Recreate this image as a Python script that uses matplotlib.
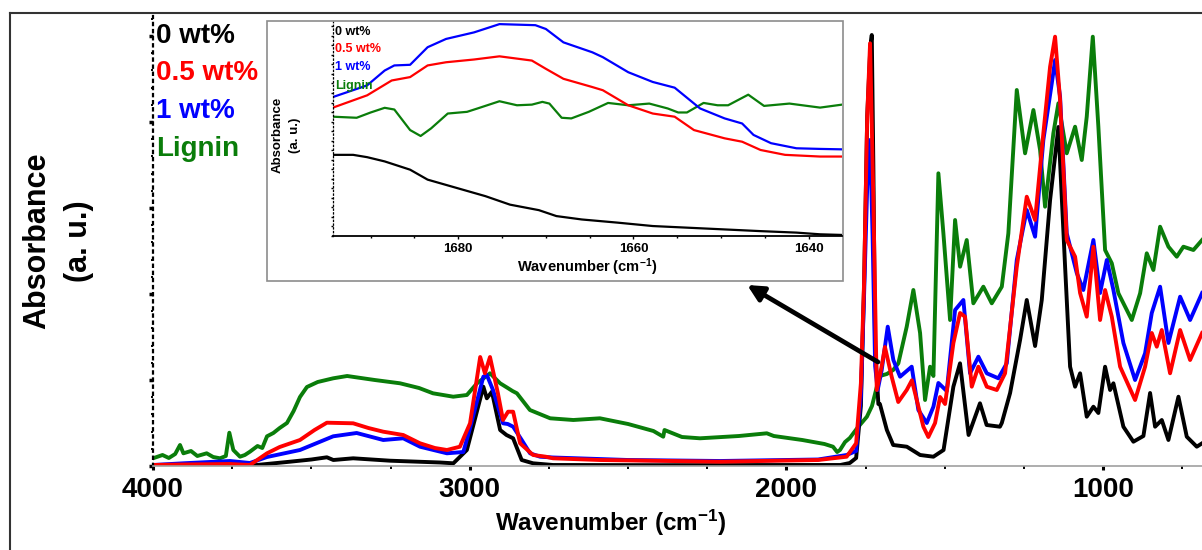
import matplotlib
matplotlib.use("Agg")
import matplotlib.pyplot as plt
from matplotlib.ticker import MultipleLocator, FixedLocator, NullFormatter
from matplotlib.patches import Rectangle
from matplotlib.lines import Line2D

plt.rcParams["font.family"] = ["Liberation Sans", "DejaVu Sans"]
plt.rcParams["mathtext.fontset"] = "custom"
plt.rcParams["mathtext.rm"] = "Liberation Sans"
plt.rcParams["mathtext.bf"] = "Liberation Sans:bold"
plt.rcParams["mathtext.default"] = "bf"

# ---- main spectrum (wavenumber in cm-1, absorbance in arbitrary units) ----
black_x = [4000, 3800, 3672.6, 3567.4, 3500, 3451, 3430.6, 3368, 3251.7, 3093.8, 3051.7, 3009,
           2957, 2946, 2930, 2904, 2884, 2863, 2836, 2800, 2737, 2400, 2000, 1830,
           1800, 1780, 1765, 1755, 1745, 1735, 1730.6, 1725.6, 1720.2, 1709.8, 1705, 1683, 1663, 1620,
           1578, 1536, 1504, 1473, 1452, 1425, 1389, 1368, 1326,
           1320.1, 1293.9, 1262.4, 1241.3, 1215, 1193.9, 1167.6, 1141.4, 1120.2, 1104.5, 1088.7, 1072.9,
           1051.9, 1030.9, 1015.2, 994, 978.2, 967.7, 936.2, 904.6, 873, 851.9, 836.1, 815, 794, 762.4,
           736.1, 704.5, 687.7]
black_y = [0.5, 0.8, 1, 4.3, 6.5, 8.7, 6, 7.7, 5.3, 3.5, 2.7, 16,
           79.3, 67.7, 74.3, 36, 31, 27.7, 6, 2.7, 1, 0.8, 1, 1,
           3, 8, 60, 180, 350, 420, 431, 300, 120, 62, 62, 36, 21, 19.3,
           11, 9.3, 16, 79.3, 102.7, 31, 62.7, 41, 39.3,
           43, 73, 126, 166, 120, 166, 266, 339, 199, 99.3, 79.3, 92.7,
           49.3, 59.3, 53, 99.3, 76, 82.7, 39.3, 24.3, 30, 73, 39.3, 46, 26, 69.3,
           29.3, 19.3, 22.7]

red_x = [4000, 3904, 3756.9, 3694, 3640, 3600, 3536, 3490, 3451, 3368, 3320, 3273,
         3210, 3157, 3110, 3072, 3031, 2999, 2967, 2952, 2936, 2911, 2895, 2879,
         2863, 2841, 2800, 2760, 2737, 2589, 2209.7, 1900, 1810, 1780, 1765, 1755,
         1745, 1736, 1725.6, 1714.9, 1699.3, 1689, 1667.8, 1647, 1620.3, 1604, 1567.7, 1552,
         1530.8, 1515, 1499.2, 1472.9, 1451.8, 1436.1, 1414.9, 1394, 1367.5, 1335.9, 1309.8, 1272.8,
         1241.3, 1215, 1188.9, 1167.6, 1151.9, 1136.1, 1115, 1088.7, 1072.9, 1051.9, 1030.9, 1009.8,
         994, 972.8, 946.6, 899.3, 867.7, 846.6, 830.8, 815, 788.8, 757.1, 725.6, 687.7]
red_y = [1, 1.5, 2, 1, 12.7, 19, 26, 36, 43.3, 42.7, 38, 34.3,
         31, 22.7, 18, 16, 19.3, 42.7, 109, 92.7, 109, 72.7, 46, 54.3,
         54.3, 22.7, 11, 9.3, 7.7, 6, 4.3, 6, 9.3, 22.7, 82.7, 182.7,
         350, 422.7, 266, 76, 100, 119, 89.3, 64, 76, 85.7, 39.3, 29,
         43, 69, 62, 123, 153, 149.3, 79.3, 99.3, 79.3, 76, 92.7, 199.3,
         269.3, 246, 332.7, 399.3, 429.3, 366, 226, 209.3, 173, 149.3, 219.3, 146,
         176, 149.3, 99.3, 66, 99.3, 133, 119.3, 136, 92.7, 136, 106, 133]

blue_x = [4000, 3904, 3756.9, 3694, 3640, 3536, 3431, 3357, 3273, 3210, 3157, 3072,
          3020.2, 2999, 2957, 2946, 2926.5, 2895, 2880, 2863, 2835.8, 2809.6, 2778, 2737,
          2500, 2209.7, 1900, 1810, 1780, 1765, 1755, 1745, 1736, 1728, 1720, 1712, 1699.3, 1680.2,
          1662.5, 1641.3, 1604.6, 1583.5, 1557, 1536, 1520.3, 1493.9, 1467.6, 1441.4, 1420.3, 1394,
          1367.5, 1330.9, 1304.4, 1272.8, 1241.3, 1215, 1188.9, 1162.3, 1151.9, 1136.1, 1115, 1083.4,
          1062.6, 1030.9, 1009.8, 988.6, 967.7, 936.2, 899.3, 867.7, 846.6, 820.3, 794, 757.1, 725.6,
          687.7]
blue_y = [1, 2.7, 5, 3, 9, 16, 29.7, 33, 26, 27.7, 19.3, 12.7,
          14, 38, 89.3, 91, 76, 42.7, 42, 39.3, 26, 12.7, 9.3, 8.5,
          6, 5, 6.5, 11, 15, 70, 170, 280, 326, 230, 100, 76, 96, 139.3,
          106, 89.3, 99.3, 56, 43, 59.3, 83, 75, 156, 166, 92.7, 109.3,
          92.7, 87.7, 102.7, 206, 256, 229.3, 326, 382.7, 406, 369.3, 232.7, 193,
          176, 226, 173, 206, 176, 123, 86, 112.7, 153, 179.3, 123, 169.3, 146,
          173]

green_x = [4000, 3970, 3950, 3930, 3914.7, 3904, 3880, 3860, 3830.5, 3810, 3788.4, 3770, 3759, 3746.4,
           3725.3, 3710, 3694, 3670, 3655, 3640, 3620, 3600, 3577, 3556, 3536, 3514, 3480, 3431,
           3387, 3300, 3220, 3160, 3116, 3052, 3009, 2977, 2936, 2904, 2880, 2865, 2851, 2810,
           2746, 2673, 2589, 2500, 2420, 2389, 2385, 2330, 2273, 2150, 2062, 2040, 1950, 1880, 1853,
           1840, 1831, 1815, 1800, 1777, 1746, 1730, 1714, 1705, 1683, 1663,
           1646.7, 1620.3, 1599.3, 1578.1, 1562.4, 1546.6, 1536,
           1520.3, 1504.5, 1483.4, 1467.6, 1451.8, 1430.8, 1409.9, 1378.3, 1351.8, 1320.1, 1299.4,
           1272.8, 1246.6, 1220.3, 1199.2, 1183.5, 1157.3, 1141.4, 1115, 1088.7, 1067.6, 1051.9, 1032.8,
           1015.2, 994, 972.8, 951.9, 909.7, 883.4, 862.4, 841.5, 820.3, 794, 767.7, 746.7, 715.1, 687.7]
green_y = [7.7, 11, 8, 12, 21, 12.7, 15, 10, 12.7, 9, 7.7, 10, 33.3, 16,
           9.3, 11, 14.3, 20, 18, 29.7, 33, 38, 43, 55, 69, 79, 84, 87.7,
           90, 86, 82.7, 78, 72.7, 69.3, 71, 82.7, 92.7, 82.7, 78, 75, 72.7, 56,
           47.7, 46, 47.7, 42, 35, 29.3, 36, 29, 27.7, 30, 32.7, 30, 26, 22, 19.3,
           14, 16, 24, 28, 37.7, 49.3, 60, 80, 90, 92, 96,
           102.7, 139.3, 176, 133, 66, 99.3, 90,
           292.7, 232.7, 146, 246, 199.3, 226, 162.7, 179.3, 162.7, 179.3, 232.7,
           376, 312.7, 356, 316, 259.3, 332.7, 362.7, 312.7, 339.3, 306, 349.3, 429.3,
           339.3, 216, 202.7, 172.7, 146, 172.7, 212.7, 196, 239.3, 219.3, 209.3, 219.3, 216, 226]

# ---- inset: 1694-1636 cm-1 zoom ----
in_black_x = [1694.3, 1692.0, 1690.4, 1688.4, 1685.5, 1683.5, 1680.2, 1676.9, 1674.1, 1670.8, 1668.8,
              1665.9, 1661.8, 1657.8, 1653.7, 1649.6, 1645.5, 1641.4, 1638.7, 1636.2]
in_black_y = [38.3, 38.3, 37.2, 35.2, 31.3, 26.6, 22.7, 18.8, 14.8, 12.2, 9.4,
              7.8, 6.3, 4.7, 3.9, 3.1, 2.3, 1.6, 0.8, 0.5]

in_red_x = [1694.3, 1690.4, 1687.6, 1685.5, 1683.5, 1681.4, 1678.2, 1675.3, 1671.6, 1670.0, 1668.0,
            1664.7, 1663.5, 1660.6, 1657.8, 1655.3, 1653.1, 1649.6, 1647.6, 1645.5, 1642.7, 1638.7, 1636.2]
in_red_y = [60.6, 66.4, 73.4, 75.0, 80.5, 82.0, 83.3, 84.8, 82.8, 78.9, 74.2,
            70.3, 68.8, 61.7, 57.8, 56.3, 50.0, 46.1, 44.5, 40.6, 38.3, 37.5, 37.5]

in_blue_x = [1694.3, 1690.4, 1688.4, 1687.3, 1685.5, 1683.5, 1681.4, 1678.2, 1675.3, 1671.2, 1670.0,
             1668.0, 1664.7, 1663.5, 1660.6, 1657.8, 1655.3, 1652.4, 1649.6, 1647.6, 1646.3, 1644.3,
             1641.4, 1638.7, 1636.2]
in_blue_y = [65.6, 71.1, 78.1, 80.5, 80.8, 89.1, 93.0, 96.1, 100, 99.5, 97.7,
             91.4, 86.7, 84.4, 77.3, 72.7, 70.0, 60.2, 55.5, 53.1, 47.7, 43.8,
             41.4, 41.1, 40.9]

in_green_x = [1694.3, 1691.6, 1690.0, 1688.4, 1687.3, 1685.5, 1684.3, 1683.1, 1681.2, 1679.0, 1677.8,
              1675.3, 1673.3, 1671.6, 1670.4, 1669.6, 1668.2, 1667.1, 1665.1, 1662.9, 1660.6, 1658.2,
              1656.1, 1654.9, 1653.9, 1652.0, 1650.4, 1649.2, 1646.9, 1645.1, 1642.2, 1638.7, 1636.2]
in_green_y = [56.3, 55.8, 58.3, 60.5, 59.7, 50.0, 47.2, 50.8, 57.8, 58.6, 60.2,
              63.6, 61.7, 62.0, 63.3, 62.5, 55.8, 55.5, 58.6, 62.8, 61.7, 62.5,
              60.2, 58.3, 58.3, 62.8, 61.7, 61.7, 66.7, 61.4, 62.5, 60.6, 62.0]

labels = ["0 wt%", "0.5 wt%", "1 wt%", "Lignin"]
colors = ["#000000", "#ff0000", "#0000ff", "#0a7d0a"]

main_series = [(black_x, black_y), (red_x, red_y), (blue_x, blue_y), (green_x, green_y)]
inset_series = [(in_black_x, in_black_y), (in_red_x, in_red_y), (in_blue_x, in_blue_y),
                (in_green_x, in_green_y)]

arrow_tail = (1711, 104)
arrow_head = (2124, 181)

W, H = 1202, 550
fig = plt.figure(figsize=(W / 100, H / 100), dpi=100)

# outer frame (left and top edges visible)
fig.add_artist(Line2D([10 / W, 10 / W], [0, 1 - 13 / H], transform=fig.transFigure, color="#333333", lw=1.5))
fig.add_artist(Line2D([10 / W, 1], [1 - 13 / H, 1 - 13 / H], transform=fig.transFigure, color="#333333", lw=1.5))

ax = fig.add_axes([153 / W, 1 - 466 / H, 1 - 153 / W, 450 / H])
# green at the back, red on top
for idx in [3, 0, 2, 1]:
    x, y = main_series[idx]
    ax.plot(x, y, color=colors[idx], lw=2.8, solid_joinstyle="round")

ax.set_xlim(4000, 688)
ax.set_ylim(0, 450)
ax.spines["top"].set_visible(False)
ax.spines["right"].set_visible(False)
ax.spines["left"].set_linestyle((0, (1, 2.2)))
ax.spines["left"].set_linewidth(1.6)
ax.spines["bottom"].set_color("#a0a0a0")
ax.spines["bottom"].set_linewidth(1.2)

ax.xaxis.set_major_locator(FixedLocator([4000, 3000, 2000, 1000]))
ax.xaxis.set_minor_locator(MultipleLocator(250))
ax.yaxis.set_major_locator(MultipleLocator(86))
ax.yaxis.set_minor_locator(MultipleLocator(17.2))
ax.yaxis.set_major_formatter(NullFormatter())
ax.tick_params(axis="x", which="major", length=3, width=2.2, pad=5, labelsize=20)
ax.tick_params(axis="x", which="minor", length=2, width=1.4)
ax.tick_params(axis="y", which="major", length=3, width=2.5)
ax.tick_params(axis="y", which="minor", length=1.5, width=1.4)
for t in ax.get_xticklabels():
    t.set_fontweight("bold")

for i, lab in enumerate(labels):
    ax.text(0.003, [0.955, 0.873, 0.789, 0.705][i], lab, transform=ax.transAxes, color=colors[i],
            fontsize=20, fontweight="bold", va="center", ha="left")

ax.annotate("", xy=arrow_head, xytext=arrow_tail,
            arrowprops=dict(arrowstyle="-|>", lw=3.4, color="black", mutation_scale=24, shrinkA=0, shrinkB=0),
            zorder=5)

fig.text(58 / W, 1 - 241 / H, "Absorbance\n(a. u.)", rotation=90, ha="center", va="center",
         multialignment="center", fontsize=22, fontweight="bold", linespacing=1.5)
fig.text(611 / W, 1 - 523 / H, r"Wavenumber (cm$^{-1}$)", ha="center", va="center",
         fontsize=17.5, fontweight="bold")

# inset frame and axes
fig.add_artist(Rectangle((267 / W, 1 - 281 / H), 576 / W, 260 / H, transform=fig.transFigure,
                         facecolor="white", edgecolor="#8c8c8c", lw=1.2, zorder=3))
axin = fig.add_axes([333 / W, 1 - 236 / H, 509 / W, 214 / H])
axin.set_zorder(4)
for idx in [3, 0, 1, 2]:
    x, y = inset_series[idx]
    axin.plot(x, y, color=colors[idx], lw=1.6)
axin.set_xlim(1694.3, 1636.2)
axin.set_ylim(0, 101)
axin.spines["top"].set_visible(False)
axin.spines["right"].set_visible(False)
axin.spines["left"].set_linestyle((0, (1, 2)))
axin.spines["left"].set_linewidth(0.9)
axin.spines["bottom"].set_linewidth(1.3)
axin.xaxis.set_major_locator(FixedLocator([1680, 1660, 1640]))
axin.xaxis.set_minor_locator(MultipleLocator(5))
axin.yaxis.set_major_locator(MultipleLocator(4.5))
axin.yaxis.set_major_formatter(NullFormatter())
axin.tick_params(axis="x", which="major", length=2, width=1, pad=3, labelsize=9.5)
axin.tick_params(axis="x", which="minor", length=1.5, width=1)
axin.tick_params(axis="y", which="major", length=1.5, width=1)
for t in axin.get_xticklabels():
    t.set_fontweight("bold")
axin.set_xlabel(r"Wavenumber (cm$^{-1}$)", fontsize=10.5, fontweight="bold", labelpad=1)
for i, lab in enumerate(labels):
    axin.text(0.004, [0.953, 0.874, 0.79, 0.70][i], lab, transform=axin.transAxes, color=colors[i],
              fontsize=9, fontweight="bold", va="center", ha="left")
fig.text(286 / W, 1 - 135 / H, "Absorbance\n(a. u.)", rotation=90, ha="center", va="center",
         multialignment="center", fontsize=9.5, fontweight="bold", linespacing=1.6, zorder=5)

fig.savefig("out.png", dpi=100)
